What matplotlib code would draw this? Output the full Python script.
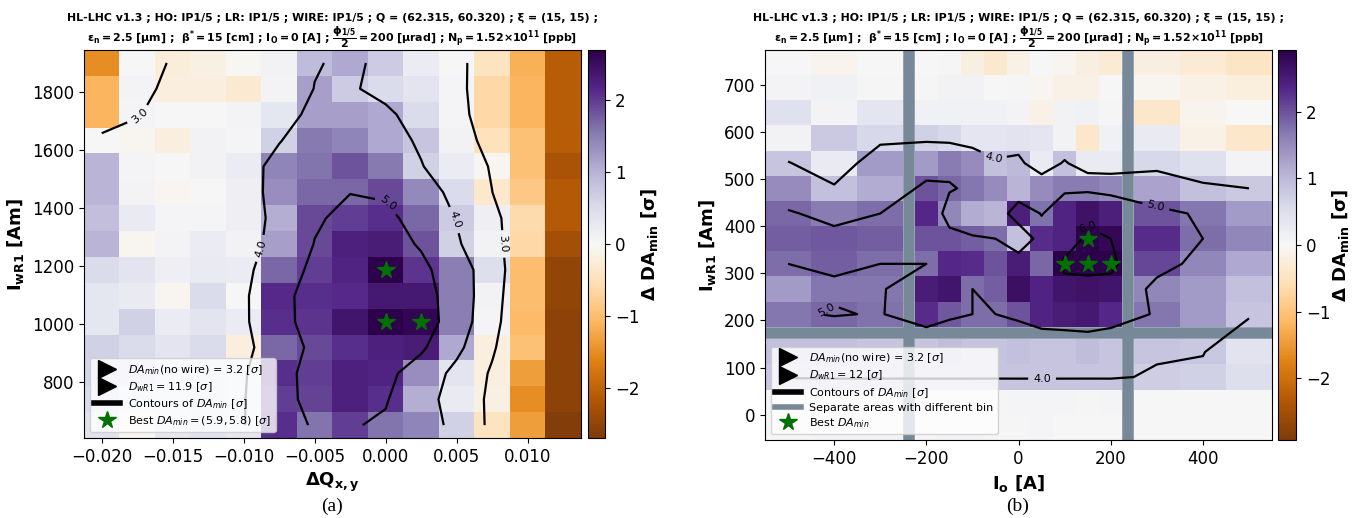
import numpy as np
import matplotlib
matplotlib.use('Agg')
import matplotlib.pyplot as plt
from matplotlib.lines import Line2D
from matplotlib.colors import Normalize
from matplotlib.ticker import MultipleLocator

# DA without wire, used to go from delta to DA for the contours
da_nowire = 3.2

# ---------------- panel (a): tune scan ----------------
dq = [-0.0200, -0.0175, -0.0150, -0.0125, -0.0100, -0.0075, -0.0050,
      -0.0025, 0.0000, 0.0025, 0.0050, 0.0075, 0.0100, 0.0125]
iw_a = [650, 739, 829, 918, 1007, 1096, 1186, 1275, 1364, 1454, 1543,
        1632, 1722, 1811, 1900]
# delta DA_min, rows go from low to high wire current
dda_a = [
    [0.4, -0.1, 0.3, 0.4, 0.3, 2.1, 1.6, 2.0, 1.6, 1.45, 0.65, -0.45, -1.35, -2.65],
    [0.5, 0.3, 0.3, 0.4, 0.3, 2.0, 1.95, 2.25, 2.1, 1.05, 0.25, -0.15, -1.5, -2.55],
    [0.6, 0.5, 0.3, 0.4, 0.3, 2.1, 2.0, 2.25, 2.2, 1.35, 0.35, -0.2, -1.35, -2.55],
    [0.65, 0.5, 0.35, 0.5, -0.2, 1.7, 1.9, 2.1, 2.25, 2.3, 1.1, -0.2, -0.95, -2.55],
    [0.3, 0.65, 0.2, 0.35, 0.2, 2.1, 2.05, 2.4, 2.7, 2.6, 1.5, 0.05, -1.05, -2.55],
    [0.3, 0.25, -0.05, 0.5, 0.02, 2.15, 2.1, 2.15, 2.35, 2.35, 1.5, 0.1, -1.0, -2.5],
    [0.5, 0.35, 0.15, 0.25, 0.2, 1.7, 2.0, 2.2, 2.7, 2.05, 1.5, 0.45, -1.0, -2.5],
    [0.95, -0.05, 0.07, 0.2, 0.1, 1.2, 1.9, 2.25, 2.3, 1.85, 0.65, 0.1, -0.65, -2.3],
    [0.85, 0.25, 0.05, 0.05, 0.15, 1.05, 1.9, 2.0, 2.1, 1.7, 0.7, 0.15, -0.6, -2.15],
    [0.95, 0.08, -0.05, 0.0, 0.15, 1.35, 1.7, 1.7, 1.9, 1.4, 0.5, -0.35, -0.85, -2.15],
    [0.95, 0.05, 0.02, 0.1, 0.2, 1.45, 1.6, 1.85, 1.55, 0.65, 0.2, -0.05, -0.95, -2.25],
    [0.02, -0.05, -0.2, 0.1, 0.05, 0.65, 1.55, 1.45, 1.1, 0.8, 0.1, -0.5, -0.95, -2.1],
    [-1.1, 0.05, 0.0, 0.0, 0.08, 0.3, 1.2, 1.2, 1.1, 0.5, 0.05, -0.65, -1.1, -2.1],
    [-1.1, 0.08, -0.2, -0.2, -0.3, 0.07, 1.2, 0.7, 0.5, 0.35, 0.05, -0.65, -1.1, -2.1],
    [-1.5, 0.0, -0.25, -0.15, -0.03, 0.1, 0.9, 1.1, 0.7, 0.2, 0.0, -0.45, -1.15, -2.1],
]
best_a_x = [0.0, 0.0, 0.0025]
best_a_y = [1186, 1007, 1007]
vmax_a = 2.7

# ---------------- panel (b): octupole scan ----------------
io_left = [-500, -400, -300]
io_mid = [-200, -150, -100, -50, 0, 50, 100, 150, 200]
io_right = [300, 400, 500]
iw_low = [-26.7, 26.7, 80.0, 133.3]
iw_high = [213.3, 266.7, 320.0, 373.3, 426.7, 480.0, 533.3, 586.7, 640.0,
           693.3, 746.7]
dda_b = [
    [0.03, 0.05, 0.05, 0.03, 0.05, 0.05, 0.03, 0.03, 0.05, 0.02, 0.0, 0.02, 0.02, 0.0, 0.0],
    [0.05, 0.05, 0.03, 0.05, 0.05, 0.05, 0.03, 0.05, 0.05, 0.05, 0.03, 0.05, 0.02, 0.02, 0.0],
    [0.83, 0.85, 0.85, 0.85, 0.85, 0.85, 0.85, 0.85, 0.85, 0.85, 0.85, 0.85, 0.75, 0.7, 0.5],
    [0.9, 0.9, 0.85, 0.85, 0.95, 0.85, 0.85, 0.9, 0.85, 0.85, 0.95, 0.85, 0.85, 0.82, 0.4],
    [1.7, 1.85, 1.75, 2.3, 1.95, 1.8, 1.8, 2.0, 2.4, 2.5, 2.55, 2.35, 1.7, 1.35, 0.85],
    [1.35, 1.7, 1.7, 2.5, 2.6, 1.8, 1.9, 2.7, 2.4, 2.6, 2.65, 2.6, 1.55, 1.35, 0.9],
    [1.8, 1.9, 1.8, 1.8, 2.35, 2.3, 2.0, 2.5, 1.85, 2.93, 2.93, 2.93, 2.1, 1.55, 1.2],
    [1.9, 1.95, 1.9, 2.0, 2.0, 1.9, 1.8, 0.9, 2.3, 2.4, 2.93, 2.8, 2.3, 1.8, 1.55],
    [1.85, 1.65, 1.8, 2.35, 1.55, 1.15, 1.05, 2.45, 1.75, 2.4, 2.65, 2.45, 2.0, 1.7, 1.35],
    [1.5, 0.9, 1.15, 2.0, 1.85, 1.7, 1.5, 1.05, 1.5, 1.65, 1.65, 1.55, 1.25, 0.9, 0.8],
    [0.85, 0.25, 1.35, 1.35, 1.65, 1.5, 0.9, 1.0, 0.25, 0.9, 0.25, 0.25, 0.6, 0.45, 0.07],
    [0.1, 0.8, 0.6, 0.7, 0.6, 0.35, 0.35, 0.4, 0.35, 0.1, -0.4, 0.12, 0.25, -0.15, -0.4],
    [0.45, 0.07, 0.35, 0.12, 0.12, 0.12, 0.12, 0.07, -0.15, 0.1, 0.12, 0.04, -0.4, -0.1, -0.02],
    [0.07, 0.12, 0.04, 0.04, 0.1, 0.1, 0.0, 0.03, -0.05, -0.15, -0.15, 0.0, -0.05, -0.15, -0.25],
    [0.0, -0.1, 0.0, 0.02, 0.03, -0.2, -0.35, -0.15, 0.0, -0.05, -0.2, -0.3, -0.2, -0.3, -0.45],
]
best_b_x = [100, 150, 200, 150]
best_b_y = [320.0, 320.0, 320.0, 373.3]
vmax_b = 2.93

star_green = '#037003'

title1 = 'HL-LHC v1.3 ; HO: IP1/5 ; LR: IP1/5 ; WIRE: IP1/5 ; Q = (62.315, 60.320) ; ξ = (15, 15) ;'
title2 = (r'$\mathbf{\varepsilon_n = 2.5\ [\mu m]}$ ;  $\mathbf{\beta^{*} = 15\ [cm]}$ ; '
          r'$\mathbf{I_O = 0\ [A]}$ ; $\mathbf{\dfrac{\phi_{1/5}}{2} = 200\ [\mu rad]}$ ; '
          r'$\mathbf{N_p = 1.52{\times}10^{11}\ [ppb]}$')


def edges(c):
    c = np.asarray(c, float)
    mid = (c[1:] + c[:-1]) / 2
    return np.concatenate([[c[0] - (mid[0] - c[0])], mid, [c[-1] + (c[-1] - mid[-1])]])


def smooth(z):
    # light smoothing, as used for the contours of the tune scan
    z = np.pad(z, 1, mode='edge')
    z = (z[:-2] + 4 * z[1:-1] + z[2:]) / 6
    z = (z[:, :-2] + 2 * z[:, 1:-1] + z[:, 2:]) / 4
    return z


def legend_handles(dw, best, band=False):
    h = [Line2D([], [], ls='none', marker='>', color='k', ms=13,
                label=r'$DA_{min}$(no wire) = 3.2 [$\sigma$]'),
         Line2D([], [], ls='none', marker='>', color='k', ms=13,
                label=r'$D_{wR1} = %s\ [\sigma]$' % dw),
         Line2D([], [], color='k', lw=4, label=r'Contours of $DA_{min}$ [$\sigma$]')]
    if band:
        h.append(Line2D([], [], color='lightslategray', lw=4,
                        label='Separate areas with different bin'))
    h.append(Line2D([], [], ls='none', marker='*', color=star_green, ms=13, label=best))
    return h


fig = plt.figure(figsize=(13.54, 5.18), dpi=100)
ax1 = fig.add_axes([0.062, 0.1544, 0.367, 0.749])
cax1 = fig.add_axes([0.4343, 0.1544, 0.01256, 0.749])
ax2 = fig.add_axes([0.565, 0.1506, 0.3745, 0.753])
cax2 = fig.add_axes([0.9439, 0.1506, 0.0133, 0.753])

# ---- (a)
za = np.array(dda_a)
norm_a = Normalize(-vmax_a, vmax_a)
m1 = ax1.pcolormesh(edges(dq), edges(iw_a), za, cmap='PuOr', norm=norm_a)
cs1 = ax1.contour(dq, iw_a, smooth(za) + da_nowire, levels=[3.0, 4.0, 5.0],
                  colors='k', linewidths=1.6, zorder=3)
ax1.clabel(cs1, fmt='%.1f', fontsize=8,
           manual=[(-0.0176, 1732), (-0.0095, 1271), (0.0053, 1364),
                   (0.0088, 1277), (0.0, 1410)])
ax1.plot(best_a_x, best_a_y, ls='none', marker='*', color=star_green, ms=13, zorder=4)
ax1.set_xlim(edges(dq)[0], edges(dq)[-1])
ax1.set_ylim(edges(iw_a)[0], edges(iw_a)[-1])
ax1.xaxis.set_major_locator(MultipleLocator(0.005))
ax1.yaxis.set_major_locator(MultipleLocator(200))
ax1.set_xlabel(r'ΔQ$_{\mathbf{x,y}}$', fontsize=13, fontweight='bold')
ax1.set_ylabel(r'I$_{\mathbf{wR1}}$ [Am]', fontsize=13, fontweight='bold')
ax1.set_title(title1 + '\n' + title2, fontsize=7.9, fontweight='bold', pad=-5,
              linespacing=1.05)
ax1.legend(handles=legend_handles('11.9', r'Best $DA_{min} = (5.9, 5.8)$ [$\sigma$]'),
           loc='lower left', fontsize=8, labelspacing=0.3, handlelength=2.3)
cb1 = fig.colorbar(m1, cax=cax1)
cb1.set_label(r'Δ DA$_{\mathbf{min}}$ [σ]', fontsize=13, fontweight='bold', labelpad=0)

# ---- (b)
zb = np.array(dda_b)
norm_b = Normalize(-vmax_b, vmax_b)
xblocks = [(io_left, slice(0, 3)), (io_mid, slice(3, 12)), (io_right, slice(12, 15))]
yblocks = [(iw_low, slice(0, 4)), (iw_high, slice(4, 15))]
for xs, xsl in xblocks:
    for ys, ysl in yblocks:
        m2 = ax2.pcolormesh(edges(xs), edges(ys), zb[ysl, xsl], cmap='PuOr', norm=norm_b)
io_all = io_left + io_mid + io_right
iw_all = iw_low + iw_high
for xa in [(edges(io_left)[-1] + edges(io_mid)[0]) / 2,
           (edges(io_mid)[-1] + edges(io_right)[0]) / 2]:
    ax2.axvline(xa, color='lightslategray', lw=8.3, zorder=2)
ax2.axhline((edges(iw_low)[-1] + edges(iw_high)[0]) / 2, color='lightslategray',
            lw=8.3, zorder=2)
cs2 = ax2.contour(io_all, iw_all, zb + da_nowire, levels=[4.0, 5.0, 6.0],
                  colors='k', linewidths=1.6, zorder=3)
ax2.clabel(cs2, fmt='%.1f', fontsize=8,
           manual=[(-50, 555), (300, 450), (150, 404), (51, 83), (-414, 217)])
ax2.plot(best_b_x, best_b_y, ls='none', marker='*', color=star_green, ms=13, zorder=4)
ax2.set_xlim(edges(io_left)[0], edges(io_right)[-1])
ax2.set_ylim(edges(iw_low)[0], edges(iw_high)[-1])
ax2.xaxis.set_major_locator(MultipleLocator(200))
ax2.yaxis.set_major_locator(MultipleLocator(100))
ax2.set_xlabel(r'I$_{\mathbf{o}}$ [A]', fontsize=13, fontweight='bold')
ax2.set_ylabel(r'I$_{\mathbf{wR1}}$ [Am]', fontsize=13, fontweight='bold')
ax2.set_title(title1 + '\n' + title2, fontsize=7.9, fontweight='bold', pad=-5,
              linespacing=1.05)
ax2.legend(handles=legend_handles('12', r'Best $DA_{min}$', band=True),
           loc='lower left', fontsize=8, labelspacing=0.3, handlelength=2.3)
cb2 = fig.colorbar(m2, cax=cax2)
cb2.set_label(r'Δ DA$_{\mathbf{min}}$ [σ]', fontsize=13, fontweight='bold', labelpad=0)

for a in (ax1, ax2, cax1, cax2):
    a.tick_params(labelsize=12)

fig.text(332 / 1354, 0.022, '(a)', fontsize=14, family='Liberation Serif',
         ha='center', va='center')
fig.text(1018 / 1354, 0.022, '(b)', fontsize=14, family='Liberation Serif',
         ha='center', va='center')

fig.savefig('out.png', dpi=100)
